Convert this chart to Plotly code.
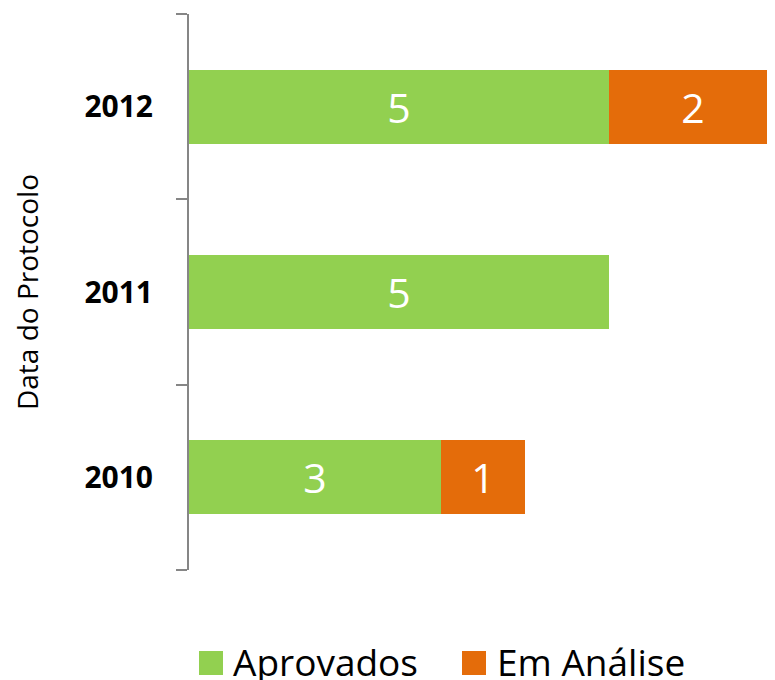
import plotly.graph_objects as go

categories = ["2010", "2011", "2012"]
aprovados = [3, 5, 5]
em_analise = [1, 0, 2]
series_names = ["Aprovados", "Em Análise"]
colors = ["#92D050", "#E46C0A"]

FONT = "Open Sans"
OFF = 8  # page body margin offset
W, H = 775, 680 - OFF
ML, MR, MT = 189 - OFF, 0, 14 - OFF
MB = H - (570 - OFF)
pw, ph = W - ML - MR, H - MT - MB
X_MAX = pw / 84.0  # ~84 px per unit as in the reference

def px_x(p):
    return (p - OFF - ML) / pw

def px_y(p):
    return (H - MB - (p - OFF)) / ph

fig = go.Figure()
for name, vals, col in zip(series_names, [aprovados, em_analise], colors):
    fig.add_trace(go.Bar(
        y=categories, x=vals, name=name, orientation="h",
        marker=dict(color=col, line=dict(width=0)),
        text=[str(v) if v else "" for v in vals],
        textposition="inside", insidetextanchor="middle",
        textangle=0, constraintext="none",
        textfont=dict(family=FONT, size=41, color="white"),
        showlegend=False, hoverinfo="skip",
    ))

# legend (drawn as layout decorations)
legend_items = [(199, 233), (462, 497)]
shapes = []
annotations = []
for (sq_x, tx_x), name, col in zip(legend_items, series_names, colors):
    shapes.append(dict(type="rect", xref="paper", yref="paper",
                       x0=px_x(sq_x), x1=px_x(sq_x + 24),
                       y0=px_y(675), y1=px_y(651),
                       fillcolor=col, line=dict(width=0)))
    annotations.append(dict(xref="paper", yref="paper", x=px_x(tx_x - 2), y=px_y(661),
                            xanchor="left", yanchor="middle", text=name, showarrow=False,
                            font=dict(family=FONT, size=37, color="black")))

fig.update_layout(
    width=W, height=H,
    margin=dict(l=ML, r=MR, t=MT, b=MB),
    barmode="stack", bargap=0.6,
    plot_bgcolor="white", paper_bgcolor="white",
    font=dict(family=FONT, color="black"),
    xaxis=dict(range=[0, X_MAX], visible=False, showgrid=False, zeroline=False, fixedrange=True),
    yaxis=dict(
        showline=True, linecolor="#868686", linewidth=2,
        ticks="outside", ticklen=11, tickcolor="#868686", tickwidth=2,
        tickson="boundaries", showgrid=False, zeroline=False,
        tickfont=dict(family=FONT, size=30, color="black", weight="bold"),
        ticklabelstandoff=28,
        title=dict(text="Data do Protocolo", standoff=38,
                   font=dict(family=FONT, size=28, color="black")),
    ),
    shapes=shapes, annotations=annotations,
)

fig.write_html("out.html")
